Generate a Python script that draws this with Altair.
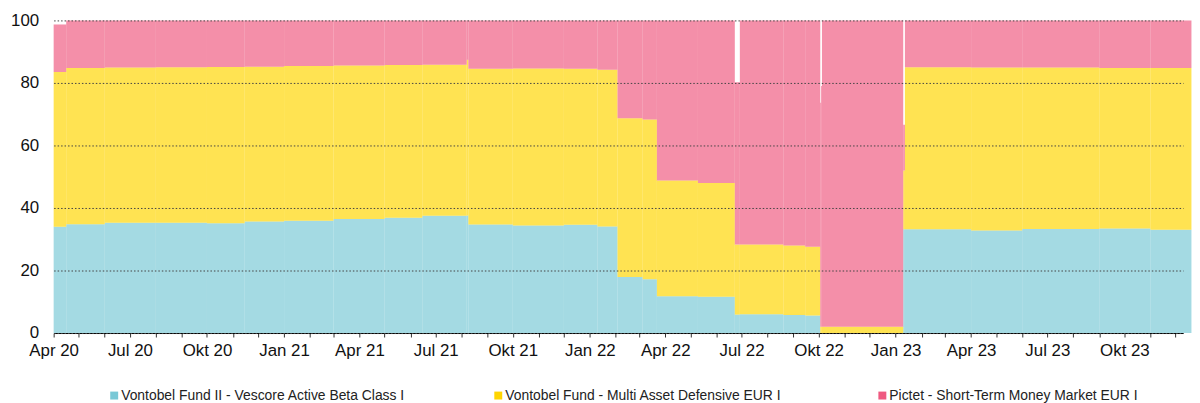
import altair as alt
import pandas as pd

# ---------------- data ----------------
funds = [
    "Vontobel Fund II - Vescore Active Beta Class I",
    "Vontobel Fund - Multi Asset Defensive EUR I",
    "Pictet - Short-Term Money Market EUR I",
]
colors = ["#79C8D6", "#FFD500", "#EF5A80"]

period_start = [
    "2020-04-01", "2020-04-16", "2020-06-01", "2020-08-01", "2020-10-01",
    "2020-11-15", "2021-01-01", "2021-03-01", "2021-05-01", "2021-06-15",
    "2021-08-07", "2021-08-09", "2021-10-01", "2021-12-01", "2022-01-10",
    "2022-02-03", "2022-03-05", "2022-03-22", "2022-05-10", "2022-06-23",
    "2022-06-29", "2022-08-20", "2022-09-15", "2022-10-03", "2022-10-04",
    "2022-10-05", "2023-01-10", "2023-01-12", "2023-04-01", "2023-06-01",
    "2023-09-01", "2023-11-01",
]
last_end = "2023-12-20"

blue = [34.0, 34.8, 35.3, 35.3, 35.1, 35.7, 35.9, 36.5, 36.9, 37.5,
        37.6, 34.7, 34.4, 34.6, 34.1, 17.9, 17.2, 11.8, 11.6, 5.9,
        6.0, 5.8, 5.6, 0.0, 0.0, 0.0, 33.2, 33.2, 32.8, 33.3,
        33.4, 33.0]
yellow = [49.5, 50.0, 49.6, 49.7, 50.0, 49.5, 49.5, 49.1, 48.8, 48.3,
          49.8, 49.8, 50.2, 49.9, 50.1, 50.8, 51.1, 37.0, 36.4, 22.4,
          22.3, 22.2, 22.0, 2.0, 2.0, 2.0, 18.8, 51.8, 52.1, 51.6,
          51.4, 51.8]
pink = [15.2, 15.2, 15.1, 15.0, 14.9, 14.8, 14.6, 14.4, 14.3, 14.2,
        12.6, 15.5, 15.4, 15.5, 15.8, 31.3, 31.7, 51.2, 52.0, 51.9,
        71.7, 72.0, 72.4, 71.7, 77.0, 98.0, 14.6, 15.0, 15.1, 15.1,
        15.2, 15.2]

months_de = ["Jan", "Feb", "Mär", "Apr", "Mai", "Jun",
             "Jul", "Aug", "Sep", "Okt", "Nov", "Dez"]
y_ticks = [0, 20, 40, 60, 80, 100]

# ---------------- table ----------------
period_end = period_start[1:] + [last_end]
rows = []
for i, s in enumerate(period_start):
    lo = 0.0
    for f, v in zip(funds, (blue[i], yellow[i], pink[i])):
        rows.append({"start": s, "end": period_end[i], "fund": f,
                     "lo": lo, "hi": lo + v, "order": funds.index(f)})
        lo += v
df = pd.DataFrame(rows)

month_ticks = [
    alt.DateTime(year=y, month=m, date=1, utc=True)
    for y in range(2020, 2024) for m in range(1, 13)
    if (y, m) >= (2020, 4)
]

label_expr = (
    "utcmonth(datum.value) % 3 == 0 ? "
    + "[" + ",".join("'" + m + "'" for m in months_de) + "][utcmonth(datum.value)]"
    + " + ' ' + utcFormat(datum.value, '%y') : ''"
)

chart = (
    alt.Chart(df)
    .mark_rect(opacity=0.68)
    .encode(
        x=alt.X(
            "start:T",
            scale=alt.Scale(
                type="utc",
                domain=[alt.DateTime(year=2020, month=4, date=1, utc=True),
                        alt.DateTime(year=2023, month=12, date=10, utc=True)],
                nice=False,
            ),
            axis=alt.Axis(
                title=None, values=month_ticks, labelExpr=label_expr,
                labelOverlap=False, labelFlush=False, grid=False,
                domainColor="#000000", domainWidth=1, tickColor="#333333",
                tickSize=4, labelFontSize=17, labelColor="#111111",
                labelPadding=6,
            ),
        ),
        x2="end:T",
        y=alt.Y(
            "lo:Q",
            scale=alt.Scale(domain=[0, 100], nice=False),
            axis=alt.Axis(
                title=None, values=y_ticks, domain=False, ticks=False,
                grid=True, gridColor="#444444", gridDash=[1.5, 2],
                gridWidth=1, labelFontSize=17, labelColor="#111111",
                labelPadding=15, zindex=1,
            ),
        ),
        y2="hi:Q",
        color=alt.Color(
            "fund:N",
            scale=alt.Scale(domain=funds, range=colors),
            legend=alt.Legend(
                title=None, orient="none", legendX=54, legendY=371,
                direction="horizontal", columns=3, gridAlign="all",
                columnPadding=86, symbolType="square", symbolSize=64,
                symbolOpacity=1, symbolStrokeWidth=0, labelFontSize=14,
                labelColor="#222222", labelLimit=500, labelOffset=0,
                padding=0,
            ),
        ),
        order=alt.Order("order:Q"),
    )
    .properties(width=1138, height=315,
                padding={"left": 2, "top": 2, "right": 0, "bottom": 0})
    .configure(font="Liberation Sans")
    .configure_view(strokeWidth=0)
)

chart.save("out.html", embed_options={"renderer": "svg", "actions": False})
